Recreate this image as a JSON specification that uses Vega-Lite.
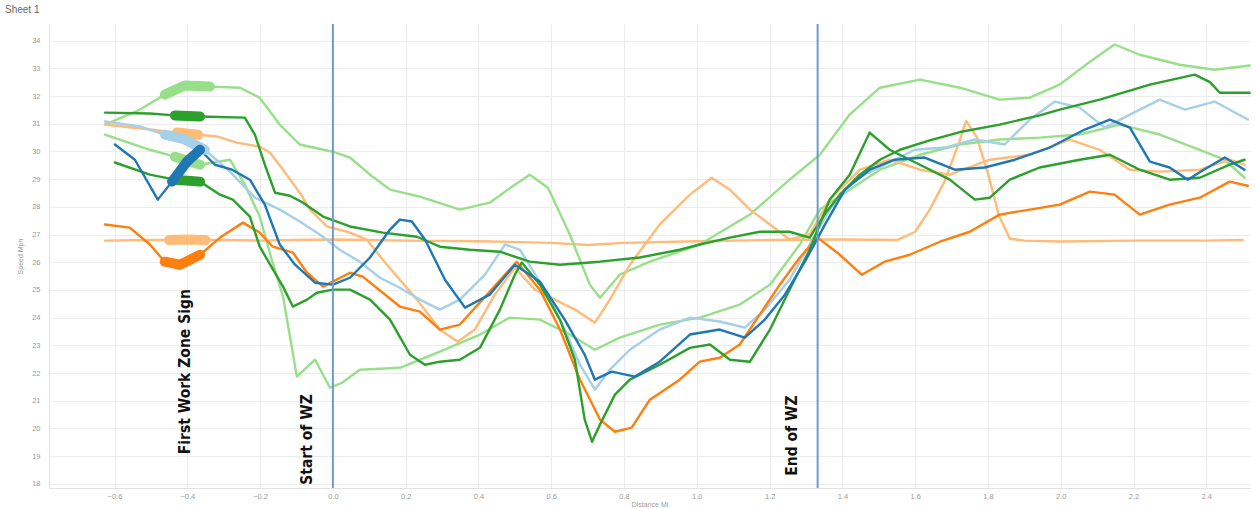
{
  "$schema": "https://vega.github.io/schema/vega-lite/v6.json",
  "width": 1201,
  "height": 464,
  "autosize": "none",
  "padding": {"left": 49, "top": 24, "right": 7, "bottom": 21},
  "background": "white",
  "title": {"text": "Sheet 1", "anchor": "start", "frame": "group", "dx": -44, "offset": 8, "fontSize": 10, "fontWeight": "normal", "color": "#666", "font": "Liberation Sans"},
  "config": {
    "view": {"stroke": null},
    "font": "Liberation Sans",
    "axis": {"labelFontSize": 7.5, "labelColor": "#9a9a9a", "ticks": false, "grid": true, "gridColor": "#ececec", "domainColor": "#e2e2e2", "titleFontSize": 7, "titleFontWeight": "normal", "titleColor": "#9a9a9a", "labelOverlap": false},
    "axisX": {"labelPadding": 4, "titlePadding": 1},
    "axisY": {"labelPadding": 9, "titlePadding": 8}
  },
  "datasets": {
    "runs": [
      {"s":"Run 1","x":-0.626,"y":26.78},{"s":"Run 1","x":-0.5,"y":26.8},{"s":"Run 1","x":-0.45,"y":26.8},{"s":"Run 1","x":-0.4,"y":26.82},{"s":"Run 1","x":-0.35,"y":26.8},{"s":"Run 1","x":-0.3,"y":26.8},{"s":"Run 1","x":-0.2,"y":26.78},{"s":"Run 1","x":-0.1,"y":26.8},{"s":"Run 1","x":0,"y":26.82},{"s":"Run 1","x":0.2,"y":26.78},{"s":"Run 1","x":0.4,"y":26.76},{"s":"Run 1","x":0.6,"y":26.7},{"s":"Run 1","x":0.7,"y":26.62},{"s":"Run 1","x":0.8,"y":26.7},{"s":"Run 1","x":1.0,"y":26.76},{"s":"Run 1","x":1.2,"y":26.8},{"s":"Run 1","x":1.4,"y":26.82},{"s":"Run 1","x":1.55,"y":26.8},{"s":"Run 1","x":1.6,"y":27.1},{"s":"Run 1","x":1.64,"y":27.9},{"s":"Run 1","x":1.68,"y":28.9},{"s":"Run 1","x":1.72,"y":30.3},{"s":"Run 1","x":1.74,"y":31.1},{"s":"Run 1","x":1.77,"y":30.5},{"s":"Run 1","x":1.8,"y":29.2},{"s":"Run 1","x":1.83,"y":27.7},{"s":"Run 1","x":1.86,"y":26.85},{"s":"Run 1","x":1.9,"y":26.78},{"s":"Run 1","x":2.0,"y":26.75},{"s":"Run 1","x":2.2,"y":26.78},{"s":"Run 1","x":2.4,"y":26.78},{"s":"Run 1","x":2.5,"y":26.8},

      {"s":"Run 2","x":-0.626,"y":30.61},{"s":"Run 2","x":-0.503,"y":30.06},{"s":"Run 2","x":-0.434,"y":29.81},{"s":"Run 2","x":-0.365,"y":29.52},{"s":"Run 2","x":-0.283,"y":29.7},{"s":"Run 2","x":-0.242,"y":28.8},{"s":"Run 2","x":-0.201,"y":27.65},{"s":"Run 2","x":-0.168,"y":26.09},{"s":"Run 2","x":-0.137,"y":24.76},{"s":"Run 2","x":-0.113,"y":22.95},{"s":"Run 2","x":-0.099,"y":21.87},{"s":"Run 2","x":-0.049,"y":22.48},{"s":"Run 2","x":-0.008,"y":21.47},{"s":"Run 2","x":0.025,"y":21.65},{"s":"Run 2","x":0.074,"y":22.12},{"s":"Run 2","x":0.184,"y":22.19},{"s":"Run 2","x":0.294,"y":22.77},{"s":"Run 2","x":0.404,"y":23.39},{"s":"Run 2","x":0.486,"y":24.0},{"s":"Run 2","x":0.569,"y":23.93},{"s":"Run 2","x":0.651,"y":23.39},{"s":"Run 2","x":0.72,"y":22.84},{"s":"Run 2","x":0.788,"y":23.28},{"s":"Run 2","x":0.898,"y":23.75},{"s":"Run 2","x":1.008,"y":24.0},{"s":"Run 2","x":1.118,"y":24.47},{"s":"Run 2","x":1.201,"y":25.19},{"s":"Run 2","x":1.283,"y":26.64},{"s":"Run 2","x":1.338,"y":27.9},{"s":"Run 2","x":1.42,"y":28.62},{"s":"Run 2","x":1.503,"y":29.34},{"s":"Run 2","x":1.613,"y":29.88},{"s":"Run 2","x":1.723,"y":30.25},{"s":"Run 2","x":1.832,"y":30.43},{"s":"Run 2","x":1.942,"y":30.5},{"s":"Run 2","x":2.052,"y":30.61},{"s":"Run 2","x":2.162,"y":30.97},{"s":"Run 2","x":2.272,"y":30.61},{"s":"Run 2","x":2.382,"y":30.06},{"s":"Run 2","x":2.45,"y":29.7},{"s":"Run 2","x":2.505,"y":29.05},

      {"s":"Run 3","x":-0.626,"y":30.97},{"s":"Run 3","x":-0.53,"y":31.51},{"s":"Run 3","x":-0.462,"y":32.05},{"s":"Run 3","x":-0.407,"y":32.38},{"s":"Run 3","x":-0.338,"y":32.34},{"s":"Run 3","x":-0.255,"y":32.3},{"s":"Run 3","x":-0.201,"y":31.94},{"s":"Run 3","x":-0.146,"y":30.97},{"s":"Run 3","x":-0.091,"y":30.25},{"s":"Run 3","x":0,"y":29.99},{"s":"Run 3","x":0.047,"y":29.78},{"s":"Run 3","x":0.102,"y":29.16},{"s":"Run 3","x":0.157,"y":28.62},{"s":"Run 3","x":0.239,"y":28.37},{"s":"Run 3","x":0.349,"y":27.9},{"s":"Run 3","x":0.431,"y":28.15},{"s":"Run 3","x":0.5,"y":28.8},{"s":"Run 3","x":0.541,"y":29.16},{"s":"Run 3","x":0.591,"y":28.69},{"s":"Run 3","x":0.651,"y":27.0},{"s":"Run 3","x":0.706,"y":25.19},{"s":"Run 3","x":0.734,"y":24.72},{"s":"Run 3","x":0.788,"y":25.55},{"s":"Run 3","x":0.871,"y":26.02},{"s":"Run 3","x":1.008,"y":26.64},{"s":"Run 3","x":1.146,"y":27.72},{"s":"Run 3","x":1.255,"y":28.98},{"s":"Run 3","x":1.338,"y":29.88},{"s":"Run 3","x":1.42,"y":31.33},{"s":"Run 3","x":1.503,"y":32.3},{"s":"Run 3","x":1.613,"y":32.59},{"s":"Run 3","x":1.723,"y":32.3},{"s":"Run 3","x":1.832,"y":31.87},{"s":"Run 3","x":1.915,"y":31.94},{"s":"Run 3","x":1.997,"y":32.41},{"s":"Run 3","x":2.08,"y":33.24},{"s":"Run 3","x":2.148,"y":33.86},{"s":"Run 3","x":2.217,"y":33.49},{"s":"Run 3","x":2.327,"y":33.13},{"s":"Run 3","x":2.423,"y":32.95},{"s":"Run 3","x":2.519,"y":33.1},

      {"s":"Run 4","x":-0.626,"y":30.97},{"s":"Run 4","x":-0.503,"y":30.79},{"s":"Run 4","x":-0.429,"y":30.68},{"s":"Run 4","x":-0.37,"y":30.6},{"s":"Run 4","x":-0.319,"y":30.54},{"s":"Run 4","x":-0.264,"y":30.32},{"s":"Run 4","x":-0.201,"y":30.17},{"s":"Run 4","x":-0.173,"y":29.96},{"s":"Run 4","x":-0.137,"y":29.34},{"s":"Run 4","x":-0.091,"y":28.51},{"s":"Run 4","x":-0.063,"y":27.9},{"s":"Run 4","x":-0.016,"y":27.29},{"s":"Run 4","x":0.047,"y":27.07},{"s":"Run 4","x":0.093,"y":26.82},{"s":"Run 4","x":0.137,"y":26.09},{"s":"Run 4","x":0.184,"y":25.37},{"s":"Run 4","x":0.231,"y":24.65},{"s":"Run 4","x":0.294,"y":23.57},{"s":"Run 4","x":0.343,"y":23.13},{"s":"Run 4","x":0.39,"y":23.57},{"s":"Run 4","x":0.445,"y":24.83},{"s":"Run 4","x":0.5,"y":25.81},{"s":"Run 4","x":0.555,"y":25.01},{"s":"Run 4","x":0.61,"y":24.65},{"s":"Run 4","x":0.665,"y":24.29},{"s":"Run 4","x":0.72,"y":23.82},{"s":"Run 4","x":0.761,"y":24.65},{"s":"Run 4","x":0.816,"y":25.91},{"s":"Run 4","x":0.898,"y":27.36},{"s":"Run 4","x":0.981,"y":28.44},{"s":"Run 4","x":1.041,"y":29.05},{"s":"Run 4","x":1.091,"y":28.62},{"s":"Run 4","x":1.146,"y":27.9},{"s":"Run 4","x":1.201,"y":27.36},{"s":"Run 4","x":1.255,"y":26.82},{"s":"Run 4","x":1.31,"y":27.0},{"s":"Run 4","x":1.365,"y":28.26},{"s":"Run 4","x":1.448,"y":29.34},{"s":"Run 4","x":1.53,"y":29.7},{"s":"Run 4","x":1.613,"y":29.34},{"s":"Run 4","x":1.695,"y":29.16},{"s":"Run 4","x":1.805,"y":29.7},{"s":"Run 4","x":1.915,"y":29.88},{"s":"Run 4","x":2.025,"y":30.43},{"s":"Run 4","x":2.107,"y":30.06},{"s":"Run 4","x":2.19,"y":29.34},{"s":"Run 4","x":2.272,"y":29.27},{"s":"Run 4","x":2.382,"y":29.34},{"s":"Run 4","x":2.464,"y":29.7},{"s":"Run 4","x":2.505,"y":29.52},

      {"s":"Run 5","x":-0.626,"y":31.08},{"s":"Run 5","x":-0.53,"y":30.9},{"s":"Run 5","x":-0.462,"y":30.61},{"s":"Run 5","x":-0.407,"y":30.43},{"s":"Run 5","x":-0.352,"y":30.06},{"s":"Run 5","x":-0.283,"y":29.27},{"s":"Run 5","x":-0.214,"y":28.33},{"s":"Run 5","x":-0.146,"y":27.9},{"s":"Run 5","x":-0.091,"y":27.47},{"s":"Run 5","x":-0.036,"y":27.0},{"s":"Run 5","x":0.019,"y":26.45},{"s":"Run 5","x":0.074,"y":26.02},{"s":"Run 5","x":0.129,"y":25.44},{"s":"Run 5","x":0.184,"y":25.08},{"s":"Run 5","x":0.239,"y":24.65},{"s":"Run 5","x":0.294,"y":24.29},{"s":"Run 5","x":0.349,"y":24.65},{"s":"Run 5","x":0.418,"y":25.55},{"s":"Run 5","x":0.473,"y":26.64},{"s":"Run 5","x":0.514,"y":26.45},{"s":"Run 5","x":0.582,"y":25.01},{"s":"Run 5","x":0.637,"y":23.57},{"s":"Run 5","x":0.679,"y":22.3},{"s":"Run 5","x":0.72,"y":21.4},{"s":"Run 5","x":0.761,"y":22.12},{"s":"Run 5","x":0.816,"y":22.84},{"s":"Run 5","x":0.898,"y":23.57},{"s":"Run 5","x":0.981,"y":24.0},{"s":"Run 5","x":1.063,"y":23.86},{"s":"Run 5","x":1.132,"y":23.64},{"s":"Run 5","x":1.187,"y":24.29},{"s":"Run 5","x":1.255,"y":25.37},{"s":"Run 5","x":1.31,"y":26.64},{"s":"Run 5","x":1.365,"y":27.9},{"s":"Run 5","x":1.434,"y":28.98},{"s":"Run 5","x":1.516,"y":29.52},{"s":"Run 5","x":1.599,"y":30.06},{"s":"Run 5","x":1.681,"y":30.14},{"s":"Run 5","x":1.764,"y":30.43},{"s":"Run 5","x":1.846,"y":30.25},{"s":"Run 5","x":1.915,"y":31.15},{"s":"Run 5","x":1.984,"y":31.8},{"s":"Run 5","x":2.052,"y":31.58},{"s":"Run 5","x":2.121,"y":30.86},{"s":"Run 5","x":2.19,"y":31.33},{"s":"Run 5","x":2.272,"y":31.87},{"s":"Run 5","x":2.341,"y":31.51},{"s":"Run 5","x":2.423,"y":31.8},{"s":"Run 5","x":2.514,"y":31.15},

      {"s":"Run 6","x":-0.626,"y":27.36},{"s":"Run 6","x":-0.558,"y":27.25},{"s":"Run 6","x":-0.503,"y":26.64},{"s":"Run 6","x":-0.462,"y":26.02},{"s":"Run 6","x":-0.42,"y":25.91},{"s":"Run 6","x":-0.365,"y":26.27},{"s":"Run 6","x":-0.31,"y":26.89},{"s":"Run 6","x":-0.247,"y":27.43},{"s":"Run 6","x":-0.201,"y":27.07},{"s":"Run 6","x":-0.165,"y":26.56},{"s":"Run 6","x":-0.11,"y":26.35},{"s":"Run 6","x":-0.071,"y":25.62},{"s":"Run 6","x":-0.027,"y":25.12},{"s":"Run 6","x":0.047,"y":25.62},{"s":"Run 6","x":0.082,"y":25.48},{"s":"Run 6","x":0.137,"y":24.9},{"s":"Run 6","x":0.184,"y":24.4},{"s":"Run 6","x":0.239,"y":24.22},{"s":"Run 6","x":0.294,"y":23.57},{"s":"Run 6","x":0.349,"y":23.75},{"s":"Run 6","x":0.431,"y":24.94},{"s":"Run 6","x":0.505,"y":26.02},{"s":"Run 6","x":0.569,"y":25.01},{"s":"Run 6","x":0.624,"y":23.57},{"s":"Run 6","x":0.679,"y":21.76},{"s":"Run 6","x":0.734,"y":20.32},{"s":"Run 6","x":0.775,"y":19.88},{"s":"Run 6","x":0.821,"y":20.03},{"s":"Run 6","x":0.871,"y":21.04},{"s":"Run 6","x":0.953,"y":21.76},{"s":"Run 6","x":1.008,"y":22.41},{"s":"Run 6","x":1.063,"y":22.55},{"s":"Run 6","x":1.118,"y":23.03},{"s":"Run 6","x":1.173,"y":24.11},{"s":"Run 6","x":1.228,"y":25.19},{"s":"Run 6","x":1.283,"y":26.17},{"s":"Run 6","x":1.332,"y":26.89},{"s":"Run 6","x":1.393,"y":26.27},{"s":"Run 6","x":1.453,"y":25.55},{"s":"Run 6","x":1.516,"y":26.02},{"s":"Run 6","x":1.585,"y":26.27},{"s":"Run 6","x":1.668,"y":26.74},{"s":"Run 6","x":1.75,"y":27.1},{"s":"Run 6","x":1.832,"y":27.72},{"s":"Run 6","x":1.915,"y":27.9},{"s":"Run 6","x":1.997,"y":28.08},{"s":"Run 6","x":2.08,"y":28.55},{"s":"Run 6","x":2.148,"y":28.44},{"s":"Run 6","x":2.217,"y":27.72},{"s":"Run 6","x":2.299,"y":28.08},{"s":"Run 6","x":2.382,"y":28.33},{"s":"Run 6","x":2.464,"y":28.91},{"s":"Run 6","x":2.514,"y":28.76},

      {"s":"Run 7","x":-0.626,"y":31.4},{"s":"Run 7","x":-0.503,"y":31.37},{"s":"Run 7","x":-0.434,"y":31.3},{"s":"Run 7","x":-0.365,"y":31.26},{"s":"Run 7","x":-0.242,"y":31.22},{"s":"Run 7","x":-0.214,"y":30.6},{"s":"Run 7","x":-0.187,"y":29.52},{"s":"Run 7","x":-0.159,"y":28.51},{"s":"Run 7","x":-0.118,"y":28.4},{"s":"Run 7","x":-0.082,"y":28.15},{"s":"Run 7","x":-0.027,"y":27.65},{"s":"Run 7","x":0.047,"y":27.29},{"s":"Run 7","x":0.137,"y":27.07},{"s":"Run 7","x":0.231,"y":26.92},{"s":"Run 7","x":0.294,"y":26.56},{"s":"Run 7","x":0.376,"y":26.45},{"s":"Run 7","x":0.459,"y":26.38},{"s":"Run 7","x":0.541,"y":26.02},{"s":"Run 7","x":0.624,"y":25.91},{"s":"Run 7","x":0.734,"y":26.02},{"s":"Run 7","x":0.843,"y":26.17},{"s":"Run 7","x":0.953,"y":26.45},{"s":"Run 7","x":1.008,"y":26.64},{"s":"Run 7","x":1.091,"y":26.89},{"s":"Run 7","x":1.173,"y":27.1},{"s":"Run 7","x":1.255,"y":27.1},{"s":"Run 7","x":1.31,"y":26.89},{"s":"Run 7","x":1.351,"y":27.72},{"s":"Run 7","x":1.393,"y":28.44},{"s":"Run 7","x":1.448,"y":29.16},{"s":"Run 7","x":1.503,"y":29.7},{"s":"Run 7","x":1.558,"y":30.06},{"s":"Run 7","x":1.64,"y":30.4},{"s":"Run 7","x":1.723,"y":30.7},{"s":"Run 7","x":1.832,"y":30.97},{"s":"Run 7","x":1.942,"y":31.3},{"s":"Run 7","x":1.997,"y":31.51},{"s":"Run 7","x":2.107,"y":31.87},{"s":"Run 7","x":2.245,"y":32.41},{"s":"Run 7","x":2.368,"y":32.77},{"s":"Run 7","x":2.41,"y":32.5},{"s":"Run 7","x":2.437,"y":32.12},{"s":"Run 7","x":2.519,"y":32.12},

      {"s":"Run 8","x":-0.599,"y":29.6},{"s":"Run 8","x":-0.503,"y":29.16},{"s":"Run 8","x":-0.434,"y":28.98},{"s":"Run 8","x":-0.365,"y":28.91},{"s":"Run 8","x":-0.31,"y":28.44},{"s":"Run 8","x":-0.275,"y":28.26},{"s":"Run 8","x":-0.228,"y":27.65},{"s":"Run 8","x":-0.201,"y":26.56},{"s":"Run 8","x":-0.137,"y":25.12},{"s":"Run 8","x":-0.11,"y":24.4},{"s":"Run 8","x":-0.071,"y":24.65},{"s":"Run 8","x":-0.044,"y":24.9},{"s":"Run 8","x":0,"y":25.01},{"s":"Run 8","x":0.047,"y":25.01},{"s":"Run 8","x":0.102,"y":24.65},{"s":"Run 8","x":0.157,"y":23.93},{"s":"Run 8","x":0.212,"y":22.66},{"s":"Run 8","x":0.253,"y":22.3},{"s":"Run 8","x":0.294,"y":22.41},{"s":"Run 8","x":0.349,"y":22.48},{"s":"Run 8","x":0.404,"y":22.91},{"s":"Run 8","x":0.459,"y":24.29},{"s":"Run 8","x":0.5,"y":25.55},{"s":"Run 8","x":0.519,"y":25.99},{"s":"Run 8","x":0.569,"y":25.19},{"s":"Run 8","x":0.624,"y":23.93},{"s":"Run 8","x":0.665,"y":22.48},{"s":"Run 8","x":0.692,"y":20.32},{"s":"Run 8","x":0.712,"y":19.52},{"s":"Run 8","x":0.734,"y":20.14},{"s":"Run 8","x":0.775,"y":21.22},{"s":"Run 8","x":0.816,"y":21.76},{"s":"Run 8","x":0.898,"y":22.3},{"s":"Run 8","x":0.981,"y":22.91},{"s":"Run 8","x":1.036,"y":23.03},{"s":"Run 8","x":1.091,"y":22.48},{"s":"Run 8","x":1.146,"y":22.41},{"s":"Run 8","x":1.201,"y":23.57},{"s":"Run 8","x":1.255,"y":25.01},{"s":"Run 8","x":1.31,"y":26.45},{"s":"Run 8","x":1.365,"y":28.26},{"s":"Run 8","x":1.42,"y":29.16},{"s":"Run 8","x":1.475,"y":30.68},{"s":"Run 8","x":1.53,"y":30.06},{"s":"Run 8","x":1.613,"y":29.52},{"s":"Run 8","x":1.695,"y":28.98},{"s":"Run 8","x":1.764,"y":28.26},{"s":"Run 8","x":1.805,"y":28.33},{"s":"Run 8","x":1.86,"y":28.98},{"s":"Run 8","x":1.942,"y":29.42},{"s":"Run 8","x":2.052,"y":29.7},{"s":"Run 8","x":2.135,"y":29.88},{"s":"Run 8","x":2.217,"y":29.34},{"s":"Run 8","x":2.299,"y":28.98},{"s":"Run 8","x":2.382,"y":29.05},{"s":"Run 8","x":2.464,"y":29.52},{"s":"Run 8","x":2.505,"y":29.7},

      {"s":"Run 9","x":-0.599,"y":30.25},{"s":"Run 9","x":-0.544,"y":29.7},{"s":"Run 9","x":-0.481,"y":28.26},{"s":"Run 9","x":-0.442,"y":28.91},{"s":"Run 9","x":-0.401,"y":29.63},{"s":"Run 9","x":-0.365,"y":30.06},{"s":"Run 9","x":-0.324,"y":29.52},{"s":"Run 9","x":-0.277,"y":29.34},{"s":"Run 9","x":-0.228,"y":28.98},{"s":"Run 9","x":-0.187,"y":28.08},{"s":"Run 9","x":-0.146,"y":26.64},{"s":"Run 9","x":-0.104,"y":25.91},{"s":"Run 9","x":-0.049,"y":25.26},{"s":"Run 9","x":0,"y":25.19},{"s":"Run 9","x":0.047,"y":25.44},{"s":"Run 9","x":0.102,"y":26.17},{"s":"Run 9","x":0.157,"y":27.18},{"s":"Run 9","x":0.184,"y":27.54},{"s":"Run 9","x":0.217,"y":27.47},{"s":"Run 9","x":0.253,"y":26.82},{"s":"Run 9","x":0.308,"y":25.37},{"s":"Run 9","x":0.363,"y":24.36},{"s":"Run 9","x":0.431,"y":24.83},{"s":"Run 9","x":0.5,"y":25.91},{"s":"Run 9","x":0.569,"y":25.3},{"s":"Run 9","x":0.637,"y":23.93},{"s":"Run 9","x":0.692,"y":22.66},{"s":"Run 9","x":0.72,"y":21.76},{"s":"Run 9","x":0.766,"y":22.05},{"s":"Run 9","x":0.83,"y":21.87},{"s":"Run 9","x":0.898,"y":22.41},{"s":"Run 9","x":0.981,"y":23.39},{"s":"Run 9","x":1.063,"y":23.57},{"s":"Run 9","x":1.132,"y":23.28},{"s":"Run 9","x":1.187,"y":23.93},{"s":"Run 9","x":1.242,"y":24.83},{"s":"Run 9","x":1.297,"y":26.02},{"s":"Run 9","x":1.352,"y":27.36},{"s":"Run 9","x":1.407,"y":28.62},{"s":"Run 9","x":1.475,"y":29.34},{"s":"Run 9","x":1.544,"y":29.7},{"s":"Run 9","x":1.626,"y":29.78},{"s":"Run 9","x":1.709,"y":29.34},{"s":"Run 9","x":1.791,"y":29.42},{"s":"Run 9","x":1.874,"y":29.7},{"s":"Run 9","x":1.97,"y":30.14},{"s":"Run 9","x":2.066,"y":30.79},{"s":"Run 9","x":2.135,"y":31.15},{"s":"Run 9","x":2.19,"y":30.86},{"s":"Run 9","x":2.245,"y":29.63},{"s":"Run 9","x":2.299,"y":29.42},{"s":"Run 9","x":2.349,"y":28.98},{"s":"Run 9","x":2.393,"y":29.34},{"s":"Run 9","x":2.451,"y":29.78},{"s":"Run 9","x":2.505,"y":29.34}
    ],
    "markers": [{"x": 0}, {"x": 1.332}],
    "notes": [
      {"x": -0.407, "y": 22.05, "label": "First Work Zone Sign"},
      {"x": -0.071, "y": 19.6, "label": "Start of WZ"},
      {"x": 1.261, "y": 19.74, "label": "End of WZ"}
    ]
  },
  "layer": [
    {
      "data": {"name": "runs"},
      "mark": {"type": "line", "strokeWidth": 2.4, "strokeJoin": "round", "strokeCap": "round"},
      "encoding": {
        "x": {"field": "x", "type": "quantitative", "scale": {"domain": [-0.78, 2.52], "nice": false, "zero": false},
              "axis": {"title": "Distance Mi", "values": [-0.6,-0.4,-0.2,0,0.2,0.4,0.6,0.8,1.0,1.2,1.4,1.6,1.8,2.0,2.2,2.4], "format": ".1f"}},
        "y": {"field": "y", "type": "quantitative", "scale": {"domain": [17.85, 34.6], "nice": false, "zero": false},
              "axis": {"title": "Speed Mph", "values": [18,19,20,21,22,23,24,25,26,27,28,29,30,31,32,33,34], "format": "d"}},
        "color": {"field": "s", "type": "nominal", "legend": null,
                  "scale": {"domain": ["Run 1","Run 2","Run 3","Run 4","Run 5","Run 6","Run 7","Run 8","Run 9"],
                            "range": ["#ffbb78","#98df8a","#98df8a","#ffbb78","#a6cfe8","#ff7f0e","#2ca02c","#2ca02c","#1f77b4"]}}
      }
    },
    {
      "data": {"name": "markers"},
      "mark": {"type": "rule", "color": "#6b9bd0", "strokeWidth": 2},
      "encoding": {"x": {"field": "x", "type": "quantitative", "axis": {"title": "Distance Mi", "values": [-0.6,-0.4,-0.2,0,0.2,0.4,0.6,0.8,1.0,1.2,1.4,1.6,1.8,2.0,2.2,2.4], "format": ".1f"}}}
    },
    {
      "data": {"name": "runs"},
      "transform": [{"filter": "datum.x >= -0.465 && datum.x <= -0.335"}],
      "mark": {"type": "line", "strokeWidth": 10, "strokeJoin": "round", "strokeCap": "round"},
      "encoding": {
        "x": {"field": "x", "type": "quantitative", "axis": {"title": "Distance Mi", "values": [-0.6,-0.4,-0.2,0,0.2,0.4,0.6,0.8,1.0,1.2,1.4,1.6,1.8,2.0,2.2,2.4], "format": ".1f"}},
        "y": {"field": "y", "type": "quantitative", "axis": {"title": "Speed Mph", "values": [18,19,20,21,22,23,24,25,26,27,28,29,30,31,32,33,34], "format": "d"}},
        "color": {"field": "s", "type": "nominal", "legend": null}
      }
    },
    {
      "data": {"name": "notes"},
      "mark": {"type": "text", "angle": 270, "align": "center", "baseline": "middle", "fontSize": 15.5, "fontWeight": "bold", "color": "#111", "font": "DejaVu Sans Condensed, sans-serif"},
      "encoding": {
        "x": {"field": "x", "type": "quantitative", "axis": {"title": "Distance Mi", "values": [-0.6,-0.4,-0.2,0,0.2,0.4,0.6,0.8,1.0,1.2,1.4,1.6,1.8,2.0,2.2,2.4], "format": ".1f"}},
        "y": {"field": "y", "type": "quantitative", "axis": {"title": "Speed Mph", "values": [18,19,20,21,22,23,24,25,26,27,28,29,30,31,32,33,34], "format": "d"}},
        "text": {"field": "label"}
      }
    }
  ]
}
